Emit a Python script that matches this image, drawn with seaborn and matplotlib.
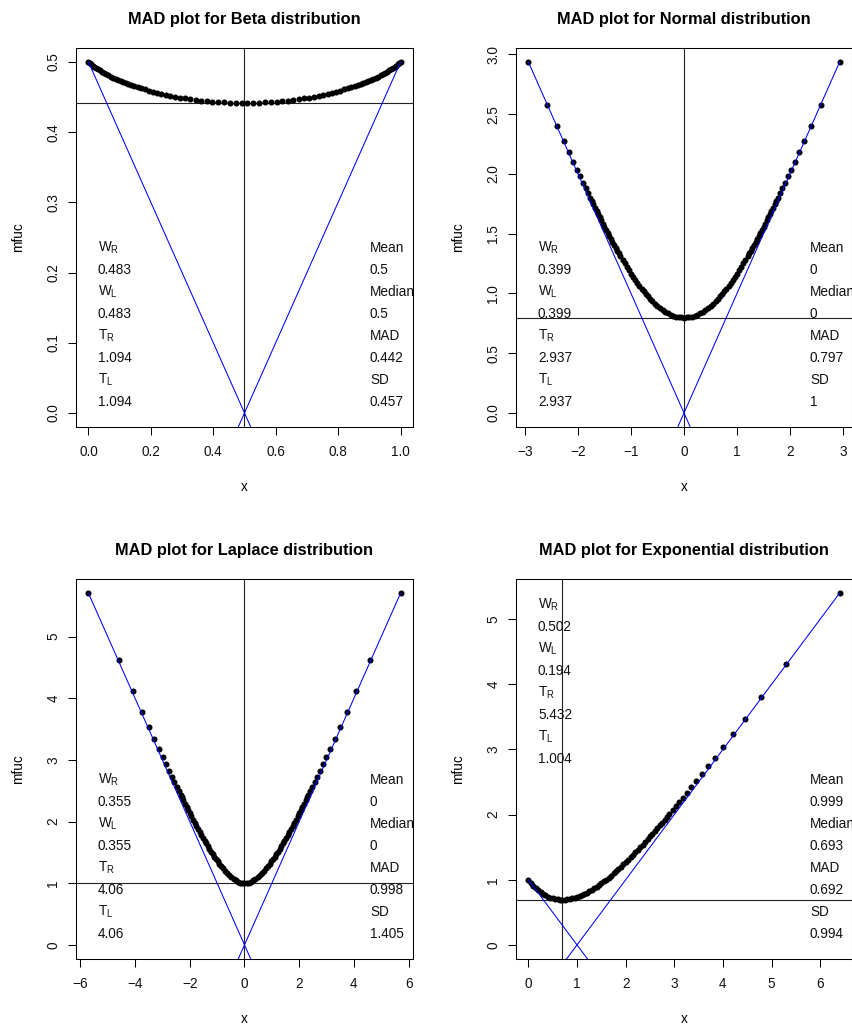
import matplotlib
matplotlib.use("Agg")
import matplotlib.pyplot as plt
import seaborn as sns
from matplotlib.ticker import FuncFormatter

# ---------------- data ----------------
beta_x = [0.0, 0.004, 0.008, 0.013, 0.018, 0.024, 0.030, 0.036, 0.043, 0.050, 0.057, 0.064,
          0.072, 0.080, 0.088, 0.096, 0.104, 0.112, 0.120, 0.128, 0.1366, 0.1467, 0.1574,
          0.1686, 0.1803, 0.1926, 0.2054, 0.2188, 0.2328, 0.2473, 0.2623, 0.2778, 0.2937,
          0.3100, 0.3268, 0.3440, 0.3615, 0.3793, 0.3974, 0.4157, 0.4342, 0.4529, 0.4717,
          0.4906,
          0.5094, 0.5283, 0.5471, 0.5658, 0.5843, 0.6026, 0.6207, 0.6385, 0.6560, 0.6732,
          0.6900, 0.7063, 0.7222, 0.7377, 0.7527, 0.7672, 0.7812, 0.7946, 0.8074, 0.8197,
          0.8314, 0.8426, 0.8533, 0.8634, 0.872, 0.880, 0.888, 0.896, 0.904, 0.912, 0.920,
          0.928, 0.936, 0.943, 0.950, 0.957, 0.964, 0.970, 0.976, 0.982, 0.987, 0.992,
          0.996, 1.0]
beta_y = [0.5, 0.49817, 0.49658, 0.49481, 0.49314, 0.49133, 0.48964, 0.48798, 0.48609,
          0.48425, 0.48265, 0.48107, 0.47933, 0.47763, 0.47598, 0.47437, 0.47286, 0.47144,
          0.47005, 0.46871, 0.46731, 0.46572, 0.46413, 0.46256, 0.46098, 0.45940, 0.45784,
          0.45632, 0.45481, 0.45334, 0.45194, 0.45059, 0.44931, 0.44811, 0.44698, 0.44595,
          0.44501, 0.44418, 0.44345, 0.44285, 0.44235, 0.44198, 0.44173, 0.44161,
          0.44161, 0.44173, 0.44198, 0.44235, 0.44285, 0.44345, 0.44418, 0.44501, 0.44595,
          0.44698, 0.44811, 0.44931, 0.45059, 0.45194, 0.45334, 0.45481, 0.45632, 0.45784,
          0.45940, 0.46098, 0.46256, 0.46413, 0.46572, 0.46731, 0.46871, 0.47005, 0.47144,
          0.47286, 0.47437, 0.47598, 0.47763, 0.47933, 0.48107, 0.48265, 0.48425, 0.48609,
          0.48798, 0.48964, 0.49133, 0.49314, 0.49481, 0.49658, 0.49817, 0.5]

normal_x = [-2.935, -2.576, -2.394, -2.268, -2.170, -2.090, -2.020, -1.960, -1.906, -1.857,
            -1.812, -1.770, -1.74, -1.71, -1.68, -1.65, -1.62, -1.59, -1.56, -1.53, -1.50,
            -1.47, -1.44, -1.41, -1.38, -1.35, -1.32, -1.29, -1.26, -1.23, -1.20, -1.16,
            -1.12, -1.08, -1.04, -1.00, -0.96, -0.92, -0.88, -0.84, -0.80, -0.76, -0.72,
            -0.68, -0.64, -0.60, -0.55, -0.50, -0.45, -0.40, -0.35, -0.30, -0.25, -0.20,
            -0.15, -0.10, -0.05, 0.0, 0.05, 0.10, 0.15, 0.20, 0.25, 0.30, 0.35, 0.40, 0.45,
            0.50, 0.55, 0.60, 0.64, 0.68, 0.72, 0.76, 0.80, 0.84, 0.88, 0.92, 0.96, 1.00,
            1.04, 1.08, 1.12, 1.16, 1.20, 1.23, 1.26, 1.29, 1.32, 1.35, 1.38, 1.41, 1.44,
            1.47, 1.50, 1.53, 1.56, 1.59, 1.62, 1.65, 1.68, 1.71, 1.74, 1.770, 1.812,
            1.857, 1.906, 1.960, 2.020, 2.090, 2.170, 2.268, 2.394, 2.576, 2.935]
normal_y = [2.9360, 2.5790, 2.3995, 2.2760, 2.1807, 2.1032, 2.0362, 1.9789, 1.9277, 1.8817,
            1.8397, 1.8009, 1.7732, 1.7457, 1.7184, 1.6913, 1.6643, 1.6376, 1.6111, 1.5847,
            1.5586, 1.5328, 1.5071, 1.4817, 1.4566, 1.4318, 1.4073, 1.3830, 1.3591, 1.3355,
            1.3122, 1.2817, 1.2519, 1.2228, 1.1943, 1.1666, 1.1397, 1.1136, 1.0883, 1.0639,
            1.0404, 1.0178, 0.9962, 0.9756, 0.9559, 0.9373, 0.9156, 0.8956, 0.8773, 0.8609,
            0.8463, 0.8335, 0.8227, 0.8138, 0.8068, 0.8019, 0.7989, 0.7979, 0.7989, 0.8019,
            0.8068, 0.8138, 0.8227, 0.8335, 0.8463, 0.8609, 0.8773, 0.8956, 0.9156, 0.9373,
            0.9559, 0.9756, 0.9962, 1.0178, 1.0404, 1.0639, 1.0883, 1.1136, 1.1397, 1.1666,
            1.1943, 1.2228, 1.2519, 1.2817, 1.3122, 1.3355, 1.3591, 1.3830, 1.4073, 1.4318,
            1.4566, 1.4817, 1.5071, 1.5328, 1.5586, 1.5847, 1.6111, 1.6376, 1.6643, 1.6913,
            1.7184, 1.7457, 1.7732, 1.8009, 1.8397, 1.8817, 1.9277, 1.9789, 2.0362, 2.1032,
            2.1807, 2.2760, 2.3995, 2.5790, 2.9360]

laplace_x = [-5.704, -4.605, -4.094, -3.758, -3.507, -3.306, -3.139, -2.996, -2.871, -2.759,
             -2.659, -2.568, -2.485, -2.408, -2.337, -2.30, -2.24, -2.18, -2.12, -2.06, -2.00,
             -1.94, -1.88, -1.82, -1.76, -1.70, -1.64, -1.58, -1.52, -1.46, -1.40, -1.34,
             -1.28, -1.22, -1.16, -1.10, -1.04, -0.98, -0.92, -0.86, -0.80, -0.72, -0.64,
             -0.56, -0.48, -0.40, -0.32, -0.24, -0.16, -0.08, 0.0, 0.08, 0.16, 0.24, 0.32,
             0.40, 0.48, 0.56, 0.64, 0.72, 0.80, 0.86, 0.92, 0.98, 1.04, 1.10, 1.16, 1.22,
             1.28, 1.34, 1.40, 1.46, 1.52, 1.58, 1.64, 1.70, 1.76, 1.82, 1.88, 1.94, 2.00,
             2.06, 2.12, 2.18, 2.24, 2.30, 2.337, 2.408, 2.485, 2.568, 2.659, 2.759, 2.871,
             2.996, 3.139, 3.306, 3.507, 3.758, 4.094, 4.605, 5.704]
laplace_y = [5.707, 4.615, 4.111, 3.781, 3.537, 3.343, 3.182, 3.046, 2.928, 2.822, 2.729,
             2.645, 2.568, 2.498, 2.433, 2.4003, 2.3465, 2.2930, 2.2400, 2.1875, 2.1353,
             2.0837, 2.0326, 1.9820, 1.9320, 1.8827, 1.8340, 1.7860, 1.7387, 1.6922, 1.6466,
             1.6018, 1.5580, 1.5152, 1.4735, 1.4329, 1.3935, 1.3553, 1.3185, 1.2832, 1.2493,
             1.2068, 1.1673, 1.1312, 1.0988, 1.0703, 1.0461, 1.0266, 1.0121, 1.0031, 1.0,
             1.0031, 1.0121, 1.0266, 1.0461, 1.0703, 1.0988, 1.1312, 1.1673, 1.2068, 1.2493,
             1.2832, 1.3185, 1.3553, 1.3935, 1.4329, 1.4735, 1.5152, 1.5580, 1.6018, 1.6466,
             1.6922, 1.7387, 1.7860, 1.8340, 1.8827, 1.9320, 1.9820, 2.0326, 2.0837, 2.1353,
             2.1875, 2.2400, 2.2930, 2.3465, 2.4003, 2.433, 2.498, 2.568, 2.645, 2.729, 2.822,
             2.928, 3.046, 3.182, 3.343, 3.537, 3.781, 4.111, 4.615, 5.707]

expo_x = [0.00, 0.05, 0.10, 0.15, 0.20, 0.25, 0.30, 0.35, 0.40, 0.45, 0.50, 0.55, 0.60,
          0.65, 0.70, 0.75, 0.80, 0.85, 0.90, 0.95, 1.00, 1.05, 1.10, 1.15, 1.20, 1.25,
          1.30, 1.35, 1.40, 1.45, 1.50, 1.55, 1.60, 1.65, 1.70, 1.75, 1.80, 1.85, 1.90,
          1.95, 2.00, 2.05, 2.10, 2.15, 2.20, 2.25, 2.30, 2.35, 2.40, 2.45, 2.50, 2.55,
          2.60, 2.65, 2.70, 2.75, 2.80, 2.842, 2.900, 2.963, 3.030, 3.101, 3.178, 3.261,
          3.352, 3.452, 3.564, 3.689, 3.832, 3.999, 4.200, 4.451, 4.787, 5.298, 6.397]
expo_y = [1.0, 0.9525, 0.9097, 0.8714, 0.8375, 0.8076, 0.7816, 0.7594, 0.7406, 0.7253,
          0.7131, 0.7039, 0.6976, 0.6941, 0.6932, 0.6947, 0.6987, 0.7048, 0.7131, 0.7235,
          0.7358, 0.7499, 0.7657, 0.7833, 0.8024, 0.8230, 0.8451, 0.8685, 0.8932, 0.9191,
          0.9463, 0.9745, 1.0038, 1.0341, 1.0654, 1.0975, 1.1306, 1.1645, 1.1991, 1.2345,
          1.2707, 1.3075, 1.3449, 1.3830, 1.4216, 1.4608, 1.5005, 1.5407, 1.5814, 1.6226,
          1.6642, 1.7062, 1.7485, 1.7913, 1.8344, 1.8779, 1.9216, 1.958, 2.010, 2.066,
          2.127, 2.191, 2.261, 2.338, 2.422, 2.516, 2.620, 2.739, 2.875, 3.036, 3.230,
          3.474, 3.804, 4.308, 5.400]

titles = ["MAD plot for Beta distribution", "MAD plot for Normal distribution",
          "MAD plot for Laplace distribution", "MAD plot for Exponential distribution"]
means = [0.5, 0.0, 0.0, 0.999]
medians = [0.5, 0.0, 0.0, 0.693]
mads = [0.442, 0.797, 0.998, 0.692]

left_labels = [
    ["$\\mathrm{W_R}$", "0.483", "$\\mathrm{W_L}$", "0.483", "$\\mathrm{T_R}$", "1.094", "$\\mathrm{T_L}$", "1.094"],
    ["$\\mathrm{W_R}$", "0.399", "$\\mathrm{W_L}$", "0.399", "$\\mathrm{T_R}$", "2.937", "$\\mathrm{T_L}$", "2.937"],
    ["$\\mathrm{W_R}$", "0.355", "$\\mathrm{W_L}$", "0.355", "$\\mathrm{T_R}$", "4.06", "$\\mathrm{T_L}$", "4.06"],
    ["$\\mathrm{W_R}$", "0.502", "$\\mathrm{W_L}$", "0.194", "$\\mathrm{T_R}$", "5.432", "$\\mathrm{T_L}$", "1.004"],
]
right_labels = [
    ["Mean", "0.5", "Median", "0.5", "MAD", "0.442", "SD", "0.457"],
    ["Mean", "0", "Median", "0", "MAD", "0.797", "SD", "1"],
    ["Mean", "0", "Median", "0", "MAD", "0.998", "SD", "1.405"],
    ["Mean", "0.999", "Median", "0.693", "MAD", "0.692", "SD", "0.994"],
]
xticks = [[0.0, 0.2, 0.4, 0.6, 0.8, 1.0], [-3, -2, -1, 0, 1, 2, 3],
          [-6, -4, -2, 0, 2, 4, 6], [0, 1, 2, 3, 4, 5, 6]]
yticks = [[0.0, 0.1, 0.2, 0.3, 0.4, 0.5], [0.0, 0.5, 1.0, 1.5, 2.0, 2.5, 3.0],
          [0, 1, 2, 3, 4, 5], [0, 1, 2, 3, 4, 5]]
xfmt = ["{:.1f}", "{:.0f}", "{:.0f}", "{:.0f}"]
yfmt = ["{:.1f}", "{:.1f}", "{:.0f}", "{:.0f}"]

xs = [beta_x, normal_x, laplace_x, expo_x]
ys = [beta_y, normal_y, laplace_y, expo_y]

# ---------------- style / layout ----------------
sns.set_theme(style="ticks")
plt.rcParams["font.family"] = ["Liberation Sans", "DejaVu Sans"]
plt.rcParams["mathtext.fontset"] = "custom"
plt.rcParams["mathtext.rm"] = "Liberation Sans"
plt.rcParams["mathtext.it"] = "Liberation Sans:italic"
plt.rcParams["axes.unicode_minus"] = True
for key in ["text.color", "axes.labelcolor", "xtick.color", "ytick.color", "axes.edgecolor"]:
    plt.rcParams[key] = "black"

W, H = 853, 1025
fig = plt.figure(figsize=(W / 100, H / 100), dpi=100)
fig.patch.set_facecolor("white")

boxes = [(76, 48, 413, 427), (516, 48, 852, 427), (76, 579, 413, 959), (516, 579, 852, 959)]
left_rows_top = [0.472, 0.472, 0.471, 0.932]
right_rows_top = [0.472, 0.472, 0.471, 0.471]
FS = 9.8


def fmt_factory(f):
    return FuncFormatter(lambda v, p: f.format(v).replace("-", "\u2212"))


for i in range(4):
    x0, y0, x1, y1 = boxes[i]
    ax = fig.add_axes([x0 / W, 1 - y1 / H, (x1 - x0) / W, (y1 - y0) / H])
    ax.set_facecolor("white")
    xd, yd = xs[i], ys[i]
    xmin, xmax = min(xd), max(xd)
    ymin, ymax = 0.0, max(yd)
    xr, yr = xmax - xmin, ymax - ymin
    ax.set_xlim(xmin - 0.04 * xr, xmax + 0.04 * xr)
    ax.set_ylim(ymin - 0.04 * yr, ymax + 0.04 * yr)

    sns.scatterplot(x=xd, y=yd, ax=ax, color="black", s=19, linewidth=0, zorder=3)
    ax.axhline(mads[i], color="#222222", lw=0.8, zorder=2)
    ax.axvline(medians[i], color="#222222", lw=0.8, zorder=2)
    m = means[i]
    ax.plot([xmin, xmax], [m - xmin, m - xmax], color="blue", lw=0.75, zorder=4)
    ax.plot([xmin, xmax], [xmin - m, xmax - m], color="blue", lw=0.75, zorder=4)

    ax.set_xticks(xticks[i])
    ax.set_yticks(yticks[i])
    ax.xaxis.set_major_formatter(fmt_factory(xfmt[i]))
    ax.yaxis.set_major_formatter(fmt_factory(yfmt[i]))
    ax.tick_params(axis="both", direction="out", length=5.8, width=0.75, color="black",
                   labelsize=FS, labelcolor="#111111")
    ax.tick_params(axis="x", pad=7)
    ax.tick_params(axis="y", pad=5.5, labelrotation=90)
    for lab in ax.get_yticklabels():
        lab.set_va("center")
    for sp in ax.spines.values():
        sp.set_visible(True)
        sp.set_color("black")
        sp.set_linewidth(0.75)

    ax.set_title(titles[i], fontsize=11.8, fontweight="bold", pad=17, color="black")
    ax.set_xlabel("x", fontsize=FS, va="center")
    ax.xaxis.set_label_coords(0.5, -60 / (y1 - y0))
    ax.set_ylabel("mfuc", fontsize=FS, va="center")
    ax.yaxis.set_label_coords(-58 / (x1 - x0), 0.5)

    lx = 22 / (x1 - x0)
    rx = 294 / (x1 - x0)
    step = 22 / (y1 - y0)
    for k in range(8):
        ax.text(lx, left_rows_top[i] - k * step, left_labels[i][k], transform=ax.transAxes,
                ha="left", va="center", fontsize=FS, color="#111111", clip_on=True, zorder=5)
        ax.text(rx, right_rows_top[i] - k * step, right_labels[i][k], transform=ax.transAxes,
                ha="left", va="center", fontsize=FS, color="#111111", clip_on=True, zorder=5)

fig.savefig("out.png", dpi=100, facecolor="white")
